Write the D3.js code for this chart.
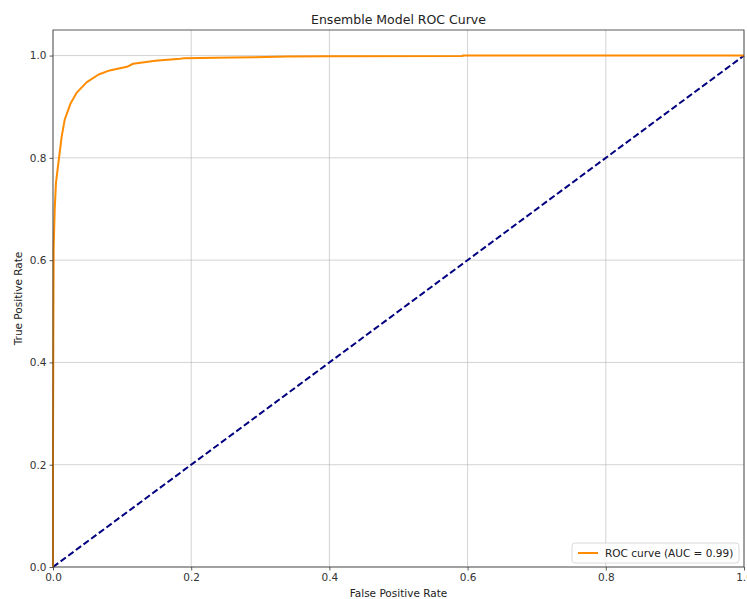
<!DOCTYPE html>
<meta charset="utf-8">
<style>
  body { margin: 0; background: #fff; }
  text { font-family: "DejaVu Sans", sans-serif; }
</style>
<svg width="747" height="599"></svg>
<script src="https://d3js.org/d3.v7.min.js"></script>
<script>

// ROC curve points
var fpr = [0, 0, 0.0005, 0.001, 0.0025, 0.0043, 0.0087, 0.0126, 0.017, 0.0256, 0.034, 0.049, 0.066, 0.082, 0.107, 0.116, 0.148, 0.184, 0.19, 0.26, 0.34, 0.4, 0.593, 0.593, 1];
var tpr = [0, 0.23, 0.46, 0.627, 0.70, 0.751, 0.80, 0.842, 0.875, 0.907, 0.927, 0.948, 0.963, 0.971, 0.978, 0.984, 0.990, 0.994, 0.995, 0.996, 0.998, 0.9985, 0.999, 1, 1];
var chance = [0, 1];
var ticks = [0, 0.2, 0.4, 0.6, 0.8, 1.0];
var aucLabel = "ROC curve (AUC = 0.99)";

var svg = d3.select("svg"),
    margin = {top: 30, right: 3, bottom: 32, left: 53},
    width = +svg.attr("width") - margin.left - margin.right,
    height = +svg.attr("height") - margin.top - margin.bottom,
    g = svg.append("g").attr("transform", "translate(" + margin.left + "," + margin.top + ")");

var x = d3.scaleLinear().domain([0, 1]).range([0, width]);
var y = d3.scaleLinear().domain([0, 1.05]).range([height, 0]);

// grid
g.append("g").selectAll("line").data(ticks).enter().append("line")
    .attr("x1", x).attr("x2", x).attr("y1", 0).attr("y2", height)
    .attr("stroke", "#b0b0b0").attr("stroke-opacity", 0.7).attr("stroke-width", 0.8);
g.append("g").selectAll("line").data(ticks).enter().append("line")
    .attr("y1", y).attr("y2", y).attr("x1", 0).attr("x2", width)
    .attr("stroke", "#b0b0b0").attr("stroke-opacity", 0.7).attr("stroke-width", 0.8);

var roc = fpr.map(function(d, i) { return [d, tpr[i]]; });
var line = d3.line().x(function(d) { return x(d[0]); }).y(function(d) { return y(d[1]); });

g.append("path")
    .datum(chance.map(function(d) { return [d, d]; }))
    .attr("d", line)
    .attr("fill", "none")
    .attr("stroke", "#000080")
    .attr("stroke-width", 2)
    .attr("stroke-dasharray", "6.5,3");

g.append("path")
    .datum(roc)
    .attr("d", line)
    .attr("fill", "none")
    .attr("stroke", "#ff8c00")
    .attr("stroke-width", 2)
    .attr("stroke-linejoin", "round");

// axes
var xAxis = g.append("g")
    .attr("transform", "translate(0," + height + ")")
    .call(d3.axisBottom(x).tickValues(ticks).tickFormat(d3.format(".1f")).tickSize(3.5).tickPadding(3));
var yAxis = g.append("g")
    .call(d3.axisLeft(y).tickValues(ticks).tickFormat(d3.format(".1f")).tickSize(3.5).tickPadding(3));
[xAxis, yAxis].forEach(function(a) {
  a.select(".domain").remove();
  a.selectAll("line").attr("stroke", "#333").attr("stroke-width", 0.8);
  a.selectAll("text").attr("fill", "#333").style("font-size", "10.5px");
});

// frame
g.append("rect")
    .attr("width", width).attr("height", height)
    .attr("fill", "none").attr("stroke", "#333").attr("stroke-width", 0.8);

svg.append("text")
    .attr("x", margin.left + width / 2).attr("y", 24)
    .attr("text-anchor", "middle")
    .attr("fill", "#222")
    .style("font-size", "12.5px")
    .text("Ensemble Model ROC Curve");

svg.append("text")
    .attr("x", margin.left + width / 2).attr("y", 597)
    .attr("text-anchor", "middle")
    .attr("fill", "#222")
    .style("font-size", "10.5px")
    .text("False Positive Rate");

svg.append("text")
    .attr("transform", "translate(22," + (margin.top + height / 2) + ")rotate(-90)")
    .attr("text-anchor", "middle")
    .attr("fill", "#222")
    .style("font-size", "10.5px")
    .text("True Positive Rate");

// legend
var legend = g.append("g").attr("transform", "translate(" + (width - 172) + "," + (height - 24) + ")");
legend.append("rect")
    .attr("width", 167).attr("height", 20).attr("rx", 3)
    .attr("fill", "#fff").attr("fill-opacity", 0.8)
    .attr("stroke", "#d0d0d0").attr("stroke-width", 0.8);
legend.append("line")
    .attr("x1", 6).attr("x2", 26).attr("y1", 10).attr("y2", 10)
    .attr("stroke", "#ff8c00").attr("stroke-width", 2);
legend.append("text")
    .attr("x", 33).attr("y", 14)
    .attr("fill", "#222")
    .style("font-size", "10.5px")
    .text(aucLabel);

</script>
